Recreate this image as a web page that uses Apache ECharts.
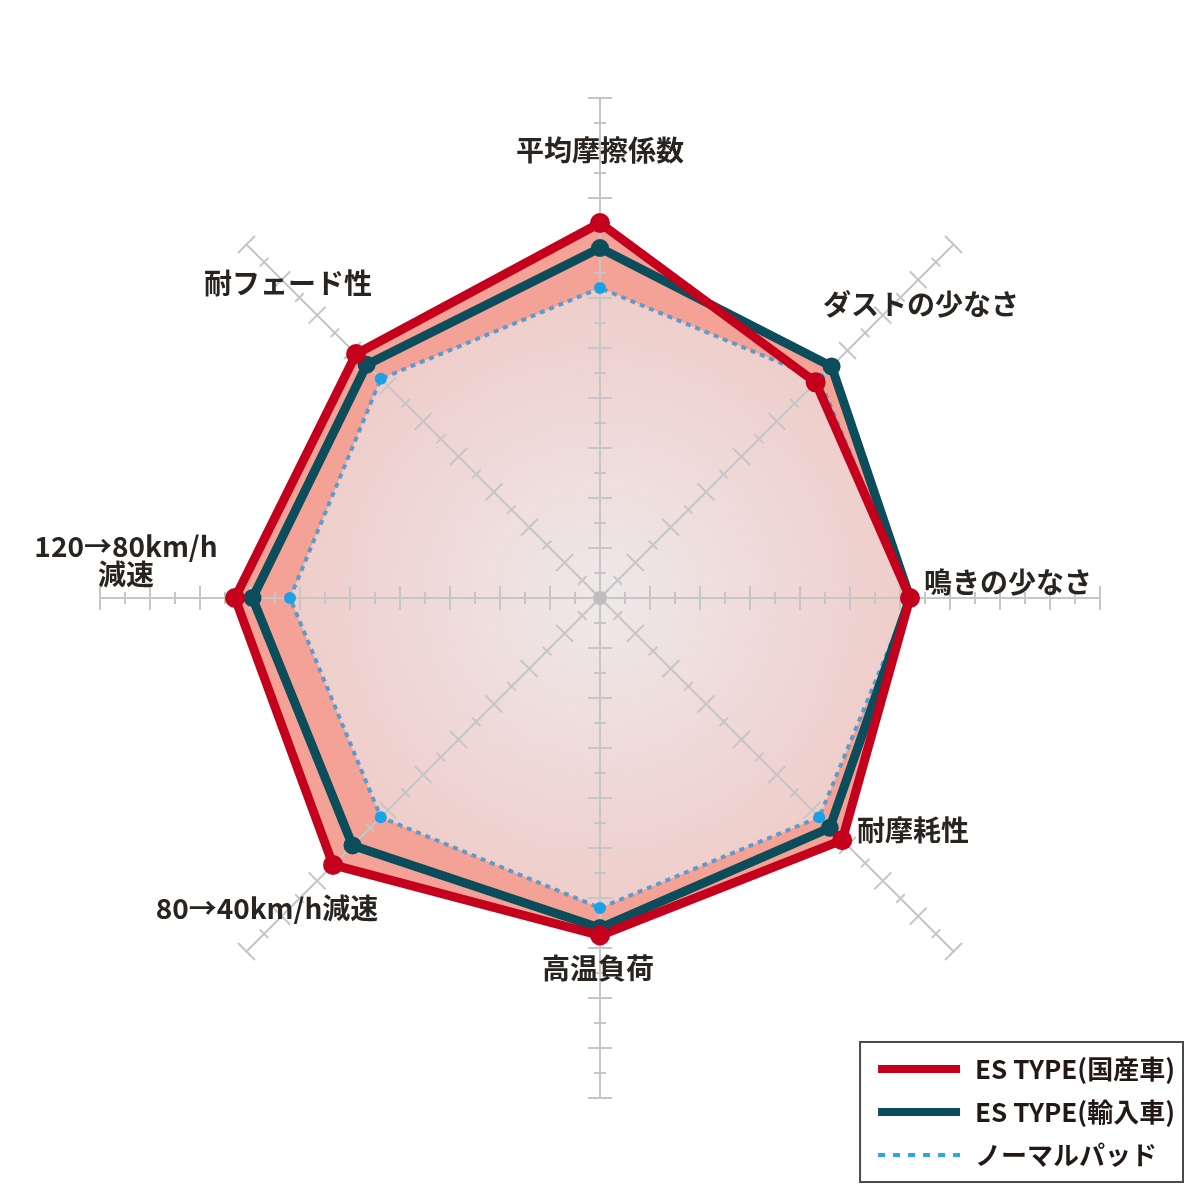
<!DOCTYPE html>
<html>
<head>
<meta charset="utf-8">
<script src="https://cdn.jsdelivr.net/npm/echarts@6/dist/echarts.min.js"></script>
<style>
html,body{margin:0;padding:0;background:#fff;}
#chart{width:1200px;height:1200px;}
</style>
</head>
<body>
<div id="chart"></div>
<script>
// indicators: ECharts lays radar axes counter-clockwise from the top
var indicatorNames = ['平均摩擦係数', '耐フェード性', '120→80km/h減速', '80→40km/h減速',
    '高温負荷', '耐摩耗性', '鳴きの少なさ', 'ダストの少なさ'];
var domesticCar = [7.5, 6.9, 7.3, 7.55, 6.75, 6.85, 6.2, 6.1];
var importCar = [7.0, 6.6, 6.95, 7.0, 6.6, 6.5, 6.2, 6.55];
var normalPad = [6.2, 6.2, 6.2, 6.2, 6.2, 6.2, 6.2, 6.2];
var seriesNames = ['ES TYPE(国産車)', 'ES TYPE(輸入車)', 'ノーマルパッド'];
var axisMax = 10;

// label placement (pixels), same order as indicatorNames
var labelPos = [[600, 150], [288, 283], [126, 560], [267, 908],
    [598, 968], [913, 830], [1008, 582], [921, 304]];

var myChart = echarts.init(document.getElementById('chart'));

var gridColor = '#c6c6c6';
// a negative tick length draws on the other side of the axis,
// so two radars together give crossing ticks
function makeRadar(split, len, showLine) {
    return {
        center: [600, 598],
        radius: 500,
        startAngle: 90,
        shape: 'polygon',
        splitNumber: split,
        z: 3,
        indicator: indicatorNames.map(function (n) {
            return {name: n, min: 0, max: axisMax};
        }),
        axisName: {show: false},
        splitLine: {show: false},
        splitArea: {show: false},
        axisLabel: {show: false},
        axisLine: {show: showLine, lineStyle: {color: gridColor, width: 2}},
        axisTick: {show: true, length: len, lineStyle: {color: gridColor, width: 2}}
    };
}

var textFont = "'Noto Sans CJK JP', sans-serif";
var dashIcon = 'path://M0,0 M82,8 M0,2h7v4h-7z M15,2h7v4h-7z M30,2h7v4h-7z M45,2h7v4h-7z M60,2h7v4h-7z M75,2h7v4h-7z';

var option = {
    backgroundColor: '#fff',
    animation: false,
    radar: [
        makeRadar(10, 12, true),
        makeRadar(10, -12, false),
        makeRadar(20, 6, false),
        makeRadar(20, -6, false)
    ],
    legend: {
        orient: 'vertical',
        right: 17,
        bottom: 18,
        selectedMode: false,
        borderColor: '#4a4a4a',
        borderWidth: 2,
        borderRadius: 0,
        padding: [14, 8, 14, 18],
        itemWidth: 82,
        itemHeight: 8,
        itemGap: 17,
        symbolKeepAspect: false,
        textStyle: {
            fontSize: 26,
            fontWeight: 'bold',
            color: '#231815',
            fontFamily: textFont,
            padding: [0, 0, 0, 10]
        },
        data: [
            {name: seriesNames[0], icon: 'rect', itemStyle: {color: '#c4001c'}},
            {name: seriesNames[1], icon: 'rect', itemStyle: {color: '#0b4d5a'}},
            {name: seriesNames[2], icon: dashIcon, itemStyle: {color: '#2ea6e0'}}
        ]
    },
    graphic: indicatorNames.map(function (n, i) {
        return {
            type: 'text',
            z: 10,
            x: labelPos[i][0],
            y: labelPos[i][1],
            style: {
                text: n === '120→80km/h減速' ? '120→80km/h\n減速' : n,
                fill: '#2a2421',
                fontSize: 28,
                fontWeight: 'bold',
                fontFamily: textFont,
                lineHeight: 28,
                align: 'center',
                verticalAlign: 'middle'
            }
        };
    }).concat([{
        type: 'circle',
        z: 10,
        shape: {cx: 600, cy: 598, r: 7},
        style: {fill: '#bdbdbd'}
    }]),
    series: [
        {
            // area fills
            type: 'radar',
            name: 'fill',
            z: 2,
            silent: true,
            symbol: 'none',
            lineStyle: {width: 0, opacity: 0},
            data: [
                {value: importCar, areaStyle: {color: '#f3a295', opacity: 1}},
                {value: domesticCar, areaStyle: {color: '#f3a295', opacity: 1}},
                {value: normalPad, areaStyle: {
                    opacity: 1,
                    color: {
                        type: 'radial', x: 0.5, y: 0.5, r: 0.5,
                        colorStops: [
                            {offset: 0, color: '#eee9ea'},
                            {offset: 1, color: '#efcdc9'}
                        ]
                    }
                }}
            ]
        },
        {
            type: 'radar',
            name: seriesNames[2],
            z: 4,
            symbol: 'circle',
            symbolSize: 12,
            itemStyle: {color: '#1ba1e6'},
            lineStyle: {color: '#5c9bcc', width: 4, type: [5, 5]},
            data: [{value: normalPad, name: seriesNames[2]}]
        },
        {
            type: 'radar',
            name: seriesNames[1],
            z: 4,
            symbol: 'circle',
            symbolSize: 18,
            itemStyle: {color: '#0b4d5a'},
            lineStyle: {color: '#0b4d5a', width: 9},
            data: [{value: importCar, name: seriesNames[1]}]
        },
        {
            type: 'radar',
            name: seriesNames[0],
            z: 4,
            symbol: 'circle',
            symbolSize: 20,
            itemStyle: {color: '#c4001c'},
            lineStyle: {color: '#c4001c', width: 9},
            data: [{value: domesticCar, name: seriesNames[0]}]
        }
    ]
};
myChart.setOption(option);
</script>
</body>
</html>
